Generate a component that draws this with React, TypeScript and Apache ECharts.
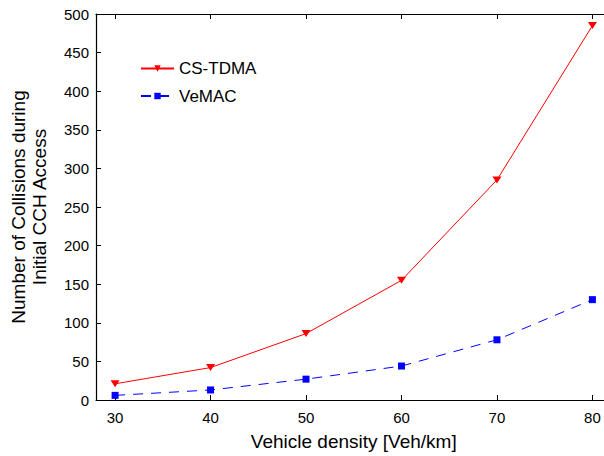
import React, { useEffect, useRef } from "react";
import * as echarts from "echarts";

const xTicks = [30, 40, 50, 60, 70, 80];
const csTdma = [21, 42, 86, 155, 285, 485];
const veMac = [6, 13, 27, 44, 78, 130];
const seriesNames = ["CS-TDMA", "VeMAC"];
const xTitle = "Vehicle density [Veh/km]";
const yTitle = "Number of Collisions during\nInitial CCH Access";

const FONT = "'Liberation Sans', Arial, Helvetica, sans-serif";

export default function App() {
  const ref = useRef<HTMLDivElement>(null);
  useEffect(() => {
    if (!ref.current) return;
    const chart = echarts.init(ref.current, undefined, { renderer: "svg" });
    const tickStyle = { show: true, inside: true, length: 5, lineStyle: { color: "#000", width: 1 } };
    chart.setOption({
      animation: false,
      backgroundColor: "#fff",
      textStyle: { fontFamily: FONT },
      grid: { left: 94, top: 14, right: 0.5, bottom: 54.3 },
      legend: {
        orient: "vertical",
        left: 135,
        top: 55,
        itemWidth: 33,
        itemHeight: 8,
        itemGap: 10.5,
        data: seriesNames,
        textStyle: { fontSize: 17, color: "#000", fontFamily: FONT },
      },
      xAxis: [
        {
          type: "value",
          min: 28,
          max: 82,
          axisLine: { show: true, onZero: false, lineStyle: { color: "#000", width: 1.2 } },
          axisTick: { ...tickStyle, customValues: xTicks },
          axisLabel: { customValues: xTicks, fontSize: 15, color: "#000", margin: 10, fontFamily: FONT },
          splitLine: { show: false },
          minorSplitLine: { show: false },
          name: xTitle,
          nameLocation: "middle",
          nameGap: 32,
          nameTextStyle: { fontSize: 19, color: "#000", fontFamily: FONT },
        },
        {
          type: "value",
          position: "top",
          min: 28,
          max: 82,
          axisLine: { show: true, onZero: false, lineStyle: { color: "#000", width: 1.2 } },
          axisTick: { ...tickStyle, customValues: xTicks },
          axisLabel: { show: false },
          splitLine: { show: false },
          minorSplitLine: { show: false },
        },
      ],
      yAxis: [
        {
          type: "value",
          min: 0,
          max: 500,
          interval: 50,
          axisLine: { show: true, onZero: false, lineStyle: { color: "#000", width: 1.2 } },
          axisTick: tickStyle,
          axisLabel: { fontSize: 15, color: "#000", margin: 7, fontFamily: FONT },
          splitLine: { show: false },
          name: yTitle,
          nameLocation: "middle",
          nameGap: 46,
          nameTextStyle: { fontSize: 19, color: "#000", lineHeight: 21, fontFamily: FONT, align: "center" },
        },
      ],
      series: [
        {
          name: seriesNames[0],
          type: "line",
          data: xTicks.map((x, i) => [x, csTdma[i]]),
          color: "#ff0000",
          lineStyle: { color: "#ff0000", width: 1 },
          symbol: "triangle",
          symbolRotate: 180,
          symbolSize: [9, 7],
          itemStyle: { color: "#ff0000" },
        },
        {
          name: seriesNames[1],
          type: "line",
          data: xTicks.map((x, i) => [x, veMac[i]]),
          color: "#0000ff",
          lineStyle: { color: "#0000ff", width: 1, type: [10, 8] },
          symbol: "rect",
          symbolSize: 7,
          itemStyle: { color: "#0000ff" },
        },
      ],
    });
    return () => chart.dispose();
  }, []);
  return (
    <div style={{ position: "absolute", left: 0, top: 0, width: 604, height: 456, overflow: "hidden", background: "#fff" }}>
      <div ref={ref} style={{ position: "absolute", left: 0, top: 0, width: 612, height: 456 }} />
    </div>
  );
}
